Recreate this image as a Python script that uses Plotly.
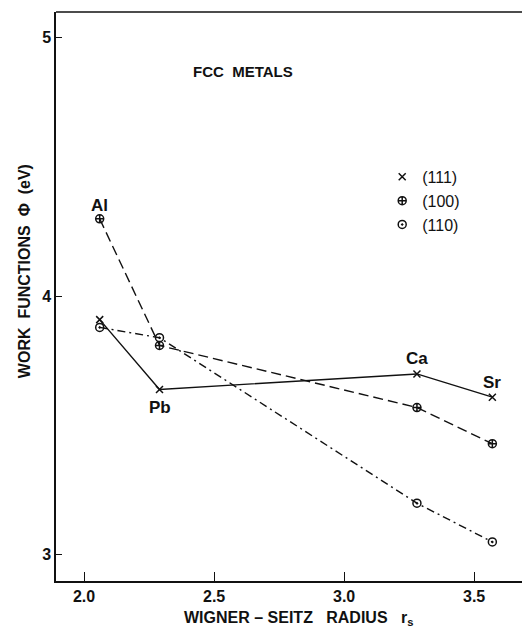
import plotly.graph_objects as go

# Data
metals = ["Al", "Pb", "Ca", "Sr"]
rs = [2.06, 2.29, 3.28, 3.57]
wf_111 = [3.91, 3.64, 3.70, 3.61]
wf_100 = [4.30, 3.81, 3.57, 3.43]
wf_110 = [3.88, 3.84, 3.20, 3.05]
x_ticks = [2.0, 2.5, 3.0, 3.5]
x_ticklabels = ["2.0", "2.5", "3.0", "3.5"]
y_ticks = [3, 4, 5]
y_ticklabels = ["3", "4", "5"]

FONT = "Liberation Sans"
BLK = "#111"

fig = go.Figure()

series = [
    ("(111)", wf_111, "solid", "x-thin", 7),
    ("(100)", wf_100, "10px,5px", "circle-cross-open", 8),
    ("(110)", wf_110, "8px,4px,2px,4px", "circle-open-dot", 8),
]
for name, ys, dash, sym, sz in series:
    fig.add_trace(go.Scatter(
        x=rs, y=ys, mode="lines+markers", showlegend=False,
        line=dict(color=BLK, width=1.4, dash=dash),
        marker=dict(symbol=sym, size=sz, color=BLK, line=dict(color=BLK, width=1.5)),
    ))
    fig.add_trace(go.Scatter(
        x=[None], y=[None], mode="markers", name=name, showlegend=True,
        marker=dict(symbol=sym, size=sz, color=BLK, line=dict(color=BLK, width=1.5)),
    ))

# point labels
label_specs = [
    ("Al", rs[0], wf_100[0], 13),
    ("Pb", rs[1], wf_111[1], -18),
    ("Ca", rs[2], wf_111[2], 15),
    ("Sr", rs[3], wf_111[3], 15),
]
for txt, xx, yy, ys in label_specs:
    fig.add_annotation(x=xx, y=yy, text=f"<b>{txt}</b>", showarrow=False,
                       yshift=ys, font=dict(family=FONT, size=17, color=BLK))

fig.add_annotation(xref="paper", yref="paper", x=0.401, y=0.896,
                   xanchor="center", yanchor="middle",
                   text="<b>FCC  METALS</b>", showarrow=False,
                   font=dict(family=FONT, size=15, color=BLK))
fig.add_annotation(xref="paper", yref="paper", x=0.52, y=-0.066,
                   xanchor="center", yanchor="middle",
                   text="<b>WIGNER – SEITZ   RADIUS   r<sub>s</sub></b>", showarrow=False,
                   font=dict(family=FONT, size=16, color=BLK))
fig.add_annotation(xref="paper", yref="paper", x=-0.066, y=0.545,
                   xanchor="center", yanchor="middle",
                   text="<b>WORK  FUNCTIONS  Φ  (eV)</b>", showarrow=False, textangle=-90,
                   font=dict(family=FONT, size=16, color=BLK))

# top frame line
fig.add_shape(type="line", xref="paper", yref="paper", x0=0, x1=1, y0=1, y1=1,
              line=dict(color=BLK, width=1.5))
# hide right edge line (reference frame is open on the right)
fig.add_shape(type="rect", xref="paper", yref="paper", x0=0.992, x1=1.0, y0=0.004, y1=0.996,
              fillcolor="white", line=dict(width=0), layer="above")

fig.update_layout(
    template="none",
    width=522, height=636,
    margin=dict(l=56, r=0, t=12, b=55),
    paper_bgcolor="white", plot_bgcolor="white",
    showlegend=True,
    legend=dict(x=0.70, y=0.74, xanchor="left", yanchor="top",
                font=dict(family=FONT, size=16, color=BLK),
                bgcolor="rgba(0,0,0,0)", borderwidth=0, itemwidth=30, tracegroupgap=0),
    xaxis=dict(range=[1.892, 3.684], tickvals=x_ticks, ticktext=x_ticklabels,
               ticks="inside", ticklen=9, tickwidth=1.3, tickcolor=BLK,
               showline=True, linecolor=BLK, linewidth=1.5, mirror=False,
               showgrid=False, zeroline=False,
               tickfont=dict(family=FONT, size=16, color=BLK, weight="bold")),
    yaxis=dict(range=[2.899, 5.100], tickvals=y_ticks, ticktext=y_ticklabels,
               ticks="inside", ticklen=6, tickwidth=1.3, tickcolor=BLK,
               showline=True, linecolor=BLK, linewidth=1.5, mirror=False,
               showgrid=False, zeroline=False,
               tickfont=dict(family=FONT, size=16, color=BLK, weight="bold")),
)

fig.write_html("out.html")
